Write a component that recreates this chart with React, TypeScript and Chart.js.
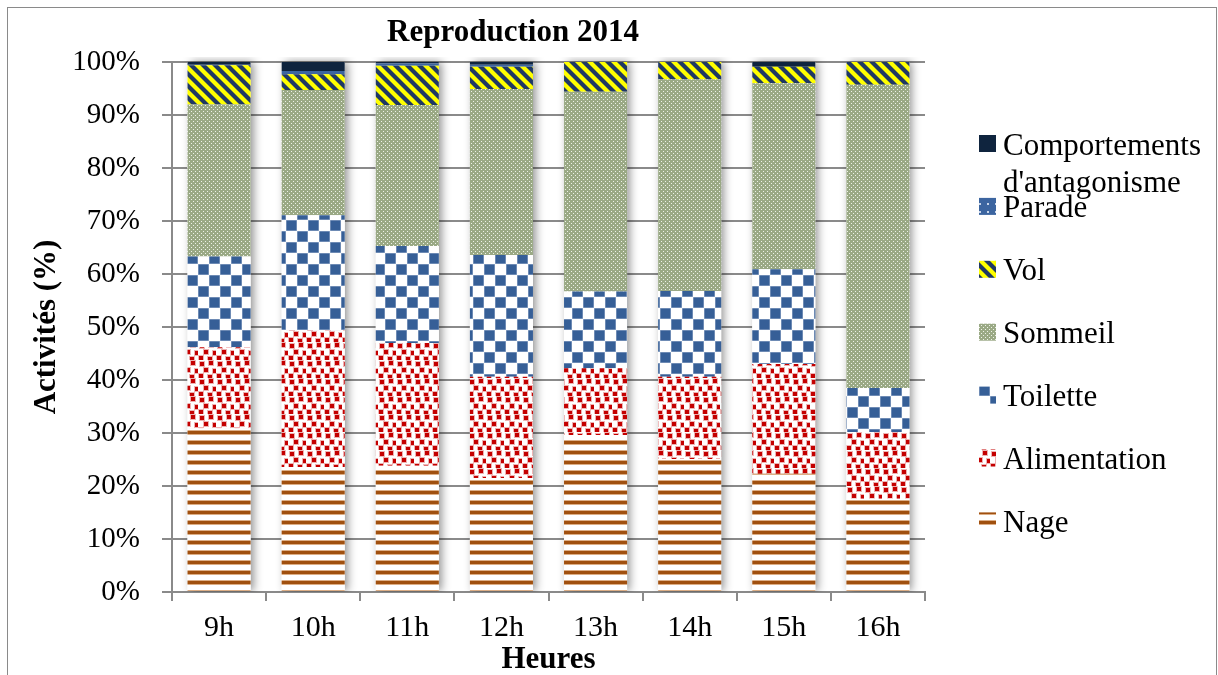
import React, { useEffect, useRef } from 'react';
import { Chart, registerables } from 'chart.js';

Chart.register(...registerables);

const hours = ['9h', '10h', '11h', '12h', '13h', '14h', '15h', '16h'];
const nage = [30.9, 23.6, 23.8, 21.5, 29.6, 25.1, 22.3, 17.6];
const alimentation = [15.3, 25.8, 23.2, 19.1, 12.6, 15.5, 20.7, 12.6];
const toilette = [17.1, 21.7, 18.3, 23.0, 14.5, 16.2, 17.9, 8.3];
const sommeil = [28.7, 23.6, 26.6, 31.3, 37.7, 39.9, 35.1, 57.2];
const vol = [7.4, 3.0, 7.4, 4.2, 5.6, 3.3, 3.1, 4.3];
const parade = [0.1, 0.6, 0.4, 0.4, 0, 0, 0, 0];
const comportements = [0.5, 1.7, 0.3, 0.5, 0, 0, 0.9, 0];
const yTickLabels = ['0%', '10%', '20%', '30%', '40%', '50%', '60%', '70%', '80%', '90%', '100%'];

const FONT = "'Liberation Serif', 'Times New Roman', serif";
const GRAY = '#8a8a8a';

function tile(w: number, h: number, draw: (g: CanvasRenderingContext2D) => void): CanvasPattern {
  const c = document.createElement('canvas');
  c.width = w;
  c.height = h;
  const g = c.getContext('2d')!;
  draw(g);
  return g.createPattern(c, 'repeat')!;
}

function makePatterns() {
  const nageP = tile(10, 10, (g) => {
    g.fillStyle = '#ffffff';
    g.fillRect(0, 0, 10, 10);
    g.fillStyle = '#dcae86';
    g.fillRect(0, 0, 10, 1);
    g.fillRect(0, 4, 10, 1);
    g.fillStyle = '#a0500f';
    g.fillRect(0, 1, 10, 3);
  });
  const alimP = tile(18, 18, (g) => {
    g.fillStyle = '#ffffff';
    g.fillRect(0, 0, 18, 18);
    const dots = [[2, 2], [11, 1], [6, 8], [15, 9], [1, 14], [10, 15]];
    for (const [x, y] of dots) {
      g.fillStyle = 'rgba(200,0,0,0.3)';
      g.fillRect(x - 1, y - 1, 6, 6);
      g.fillStyle = '#c40000';
      g.fillRect(x, y, 4, 4);
    }
  });
  const toilP = tile(22, 22, (g) => {
    g.fillStyle = '#ffffff';
    g.fillRect(0, 0, 22, 22);
    g.fillStyle = 'rgba(54,96,151,0.45)';
    g.fillRect(0, 0, 11, 11);
    g.fillRect(11, 11, 11, 11);
    g.fillStyle = '#365f97';
    g.fillRect(0.5, 0.5, 10, 10);
    g.fillRect(11.5, 11.5, 10, 10);
  });
  const sommP = tile(4, 4, (g) => {
    g.fillStyle = '#9aa985';
    g.fillRect(0, 0, 4, 4);
    g.fillStyle = '#eef2e8';
    g.fillRect(1, 1, 1, 1);
    g.fillRect(3, 3, 1, 1);
  });
  const volP = tile(12, 12, (g) => {
    const img = g.createImageData(12, 12);
    for (let y = 0; y < 12; y++) {
      for (let x = 0; x < 12; x++) {
        const t = (((x - y) % 12) + 12) % 12;
        const v = 0.5 + 0.5 * Math.cos((2 * Math.PI * t) / 12);
        const k = Math.min(1, Math.max(0, (v - 0.5) * 2.2 + 0.5));
        const i = (y * 12 + x) * 4;
        img.data[i] = Math.round(31 + (255 - 31) * k);
        img.data[i + 1] = Math.round(56 + (255 - 56) * k);
        img.data[i + 2] = Math.round(100 + (0 - 100) * k);
        img.data[i + 3] = 255;
      }
    }
    g.putImageData(img, 0, 0);
  });
  const paradeP = tile(8, 8, (g) => {
    g.fillStyle = '#3c65a0';
    g.fillRect(0, 0, 8, 8);
    g.fillStyle = '#c9d6ea';
    g.fillRect(3, 3, 2, 2);
  });
  return { nageP, alimP, toilP, sommP, volP, paradeP };
}

const shadowPlugin = {
  id: 'barShadow',
  beforeDatasetsDraw(chart: any) {
    const ctx = chart.ctx;
    const metas = chart.getSortedVisibleDatasetMetas();
    const n = chart.data.labels.length;
    const a = chart.chartArea;
    ctx.save();
    ctx.beginPath();
    ctx.rect(a.left, a.top - 5, a.right - a.left, a.bottom - a.top + 5);
    ctx.clip();
    ctx.shadowColor = 'rgba(0,0,0,0.45)';
    ctx.shadowBlur = 9;
    ctx.shadowOffsetX = 3;
    ctx.fillStyle = '#ffffff';
    for (let i = 0; i < n; i++) {
      let top = Infinity;
      let bottom = -Infinity;
      let x = 0;
      let w = 0;
      for (const meta of metas) {
        const el = meta.data[i];
        if (!el) continue;
        const p = el.getProps(['x', 'y', 'base', 'width'], true);
        top = Math.min(top, p.y, p.base);
        bottom = Math.max(bottom, p.y, p.base);
        x = p.x;
        w = p.width;
      }
      ctx.fillRect(x - w / 2, top, w, bottom - top);
    }
    ctx.restore();
  },
};

const decorPlugin = {
  id: 'decor',
  afterDraw(chart: any) {
    const ctx = chart.ctx;
    ctx.save();
    ctx.strokeStyle = GRAY;
    ctx.lineWidth = 1;
    ctx.strokeRect(7.5, 7.5, 1209, 700);
    ctx.fillStyle = '#000';
    ctx.font = `bold 31px ${FONT}`;
    ctx.textAlign = 'center';
    ctx.textBaseline = 'middle';
    ctx.fillText('Reproduction 2014', 513, 33);
    const ds = chart.data.datasets;
    ctx.font = `31px ${FONT}`;
    ctx.textAlign = 'left';
    ctx.textBaseline = 'alphabetic';
    const boxX = 979;
    const textX = 1003;
    const maxW = 212;
    for (let k = 0; k < ds.length; k++) {
      const d = ds[ds.length - 1 - k];
      const cy = 143.5 + k * 62.9;
      ctx.fillStyle = d.backgroundColor;
      ctx.fillRect(boxX, cy - 8.5, 17, 17);
      const words = String(d.label).split(' ');
      const lines: string[] = [];
      let cur = '';
      for (const w of words) {
        const t = cur ? cur + ' ' + w : w;
        if (cur && ctx.measureText(t).width > maxW) {
          lines.push(cur);
          cur = w;
        } else cur = t;
      }
      if (cur) lines.push(cur);
      ctx.fillStyle = '#000';
      lines.forEach((l, li) => ctx.fillText(l, textX, cy + 11 + li * 37));
    }
    ctx.restore();
  },
};

export default function App() {
  const ref = useRef<HTMLCanvasElement | null>(null);
  useEffect(() => {
    if (!ref.current) return;
    const p = makePatterns();
    const mk = (label: string, data: number[], bg: any) => ({
      label,
      data,
      backgroundColor: bg,
      borderWidth: 0,
      barPercentage: 0.67,
      categoryPercentage: 1,
    });
    const chart = new Chart(ref.current, {
      type: 'bar',
      data: {
        labels: hours,
        datasets: [
          mk('Nage', nage, p.nageP),
          mk('Alimentation', alimentation, p.alimP),
          mk('Toilette', toilette, p.toilP),
          mk('Sommeil', sommeil, p.sommP),
          mk('Vol', vol, p.volP),
          mk('Parade', parade, p.paradeP),
          mk("Comportements d'antagonisme", comportements, '#0f243e'),
        ],
      },
      options: {
        responsive: true,
        maintainAspectRatio: false,
        animation: false,
        layout: { padding: { top: 62, right: 293, left: 0, bottom: 0 } },
        plugins: {
          legend: { display: false },
          title: { display: false },
          tooltip: { enabled: false },
        },
        scales: {
          x: {
            stacked: true,
            grid: {
              display: true,
              drawOnChartArea: false,
              drawTicks: true,
              tickLength: 9,
              color: GRAY,
              lineWidth: 2,
              offset: true,
            },
            border: { display: true, color: GRAY, width: 2 },
            ticks: { color: '#000', font: { family: FONT, size: 30 }, padding: 9 },
            title: {
              display: true,
              text: 'Heures',
              color: '#000',
              font: { family: FONT, size: 31, weight: 'bold', lineHeight: 1 },
              padding: 0,
            },
            afterFit: (s: any) => {
              s.height = 83;
            },
          },
          y: {
            stacked: true,
            min: 0,
            max: 100,
            ticks: {
              stepSize: 10,
              color: '#000',
              font: { family: FONT, size: 29 },
              padding: 22,
              callback: (_v: any, i: number) => yTickLabels[i],
            },
            grid: { color: GRAY, lineWidth: 2, tickLength: 10 },
            border: { display: true, color: GRAY, width: 2 },
            title: {
              display: true,
              text: 'Activités (%)',
              color: '#000',
              font: { family: FONT, size: 31, weight: 'bold', lineHeight: 1 },
              padding: { top: 31, bottom: 0 },
            },
            afterFit: (s: any) => {
              s.width = 172;
            },
          },
        },
      } as any,
      plugins: [shadowPlugin, decorPlugin],
    });
    return () => chart.destroy();
  }, []);
  return (
    <div style={{ position: 'fixed', left: 0, top: 0, width: 1218, height: 675, background: '#fff' }}>
      <canvas ref={ref} />
    </div>
  );
}
